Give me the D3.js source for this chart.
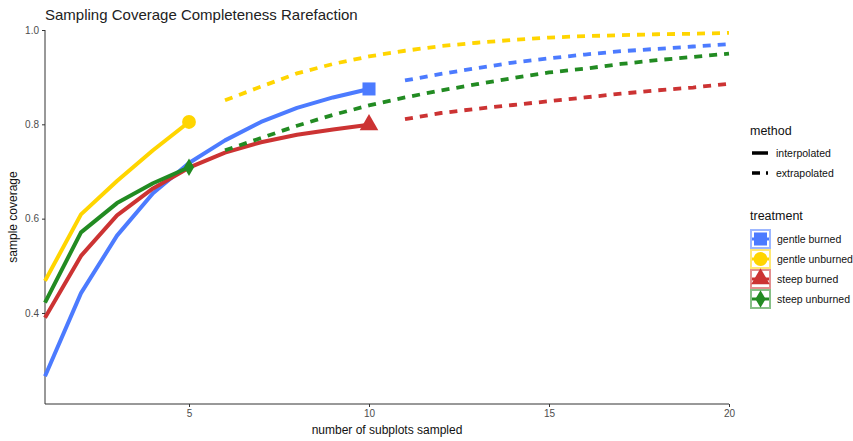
<!DOCTYPE html>
<html>
<head>
<meta charset="utf-8">
<script src="https://cdn.jsdelivr.net/npm/d3@7"></script>
<style>
  body { margin: 0; background: #fff; }
  svg { font-family: "Liberation Sans", Arial, sans-serif; }
</style>
</head>
<body>
<div id="chart"></div>
<script>
// treatments, in legend order
const treatments = ["gentle burned", "gentle unburned", "steep burned", "steep unburned"]
const colors = ["#4C7BFF", "#FFD500", "#CC3333", "#228B22"]
const shapes = [d3.symbolSquare, d3.symbolCircle, d3.symbolTriangle, d3.symbolDiamond]

// number of subplots sampled
const interpX10 = [1, 2, 3, 4, 5, 6, 7, 8, 9, 10]
const interpX5 = [1, 2, 3, 4, 5]
const extrapX11 = [11, 12, 13, 14, 15, 16, 17, 18, 19, 20]
const extrapX6 = [6, 7, 8, 9, 10, 11, 12, 13, 14, 15, 16, 17, 18, 19, 20]

// sample coverage
const gentleBurnedInterp = [0.266, 0.442, 0.564, 0.654, 0.718, 0.766, 0.805, 0.835, 0.857, 0.875]
const gentleBurnedExtrap = [0.893, 0.907, 0.919, 0.931, 0.940, 0.948, 0.955, 0.960, 0.965, 0.970]
const gentleUnburnedInterp = [0.468, 0.609, 0.68, 0.745, 0.805]
const gentleUnburnedExtrap = [0.851, 0.880, 0.908, 0.928, 0.944, 0.956, 0.966, 0.973, 0.979, 0.984, 0.987, 0.989, 0.991, 0.992, 0.994]
const steepBurnedInterp = [0.39, 0.521, 0.607, 0.664, 0.708, 0.740, 0.762, 0.778, 0.789, 0.799]
const steepBurnedExtrap = [0.811, 0.824, 0.833, 0.841, 0.849, 0.857, 0.865, 0.872, 0.878, 0.886]
const steepUnburnedInterp = [0.422, 0.571, 0.633, 0.675, 0.709]
const steepUnburnedExtrap = [0.745, 0.771, 0.797, 0.82, 0.84, 0.857, 0.872, 0.885, 0.898, 0.91, 0.918, 0.928, 0.936, 0.943, 0.95]

const xTicks = [5, 10, 15, 20]
const yTicks = [0.4, 0.6, 0.8, 1.0]

const series = [
  { interp: d3.zip(interpX10, gentleBurnedInterp), extrap: d3.zip(extrapX11, gentleBurnedExtrap) },
  { interp: d3.zip(interpX5, gentleUnburnedInterp), extrap: d3.zip(extrapX6, gentleUnburnedExtrap) },
  { interp: d3.zip(interpX10, steepBurnedInterp), extrap: d3.zip(extrapX11, steepBurnedExtrap) },
  { interp: d3.zip(interpX5, steepUnburnedInterp), extrap: d3.zip(extrapX6, steepUnburnedExtrap) }
]

const width = 853
const height = 441

const x = d3.scaleLinear().domain([1, 20]).range([45, 729])
const y = d3.scaleLinear().domain([0.207, 1.0]).range([404, 30])

const svg = d3.select("#chart").append("svg")
  .attr("width", width)
  .attr("height", height)

svg.append("text")
  .attr("x", 45)
  .attr("y", 20)
  .attr("font-size", 15)
  .attr("fill", "#222")
  .text("Sampling Coverage Completeness Rarefaction")

// axes
const xAxis = svg.append("g")
  .attr("transform", `translate(0,${y.range()[0]})`)
  .call(d3.axisBottom(x).tickValues(xTicks).tickSize(3).tickPadding(3).tickFormat(d3.format("d")))
xAxis.select(".domain").attr("stroke", "#333").attr("d", `M${x.range()[0]},0H${x.range()[1]}`)

const yAxis = svg.append("g")
  .attr("transform", `translate(${x.range()[0]},0)`)
  .call(d3.axisLeft(y).tickValues(yTicks).tickSize(3).tickPadding(3).tickFormat(d3.format(".1f")))
yAxis.select(".domain").attr("stroke", "#333").attr("d", `M0,${y.range()[0]}V${y.range()[1]}`)

svg.selectAll(".tick line").attr("stroke", "#333")
svg.selectAll(".tick text").attr("fill", "#4d4d4d").attr("font-size", 10)
  .attr("font-family", "'Liberation Sans', Arial, sans-serif")

svg.append("text")
  .attr("x", (x.range()[0] + x.range()[1]) / 2)
  .attr("y", 434)
  .attr("text-anchor", "middle")
  .attr("font-size", 12)
  .attr("fill", "#111")
  .text("number of subplots sampled")

svg.append("text")
  .attr("transform", `translate(17,${(y.range()[0] + y.range()[1]) / 2}) rotate(-90)`)
  .attr("text-anchor", "middle")
  .attr("font-size", 12)
  .attr("fill", "#111")
  .text("sample coverage")

const line = d3.line().x(d => x(d[0])).y(d => y(d[1]))

const plot = svg.append("g")

series.forEach((s, i) => {
  plot.append("path")
    .attr("d", line(s.interp))
    .attr("fill", "none")
    .attr("stroke", colors[i])
    .attr("stroke-width", 4)
    .attr("stroke-linejoin", "round")
  plot.append("path")
    .attr("d", line(s.extrap))
    .attr("fill", "none")
    .attr("stroke", colors[i])
    .attr("stroke-width", 3.8)
    .attr("stroke-dasharray", "8,7")
})

// reference sample markers at the end of each interpolated curve
const markerSizes = [170, 150, 150, 90]
series.forEach((s, i) => {
  const last = s.interp[s.interp.length - 1]
  plot.append("path")
    .attr("d", d3.symbol(shapes[i], markerSizes[i])())
    .attr("transform", `translate(${x(last[0])},${y(last[1])})`)
    .attr("fill", colors[i])
})

// legend
const legend = svg.append("g").attr("font-size", 10.5).attr("fill", "#111")

legend.append("text").attr("x", 750).attr("y", 135).attr("font-size", 12.5).text("method")

const methods = ["interpolated", "extrapolated"]
methods.forEach((m, i) => {
  const cy = 153 + i * 20
  legend.append("line")
    .attr("x1", 752).attr("x2", 768)
    .attr("y1", cy).attr("y2", cy)
    .attr("stroke", "#000")
    .attr("stroke-width", 3.5)
    .attr("stroke-dasharray", i === 0 ? null : "8,6")
  legend.append("text").attr("x", 776).attr("y", cy).attr("dy", "0.35em").text(m)
})

legend.append("text").attr("x", 750).attr("y", 220).attr("font-size", 12.5).text("treatment")

treatments.forEach((t, i) => {
  const top = 229 + i * 20
  const key = legend.append("g")
  key.append("rect")
    .attr("x", 751).attr("y", top + 1)
    .attr("width", 19).attr("height", 18)
    .attr("fill", "none")
    .attr("stroke", colors[i])
    .attr("stroke-opacity", 0.55)
    .attr("stroke-width", 2)
  key.append("line")
    .attr("x1", 752).attr("x2", 769)
    .attr("y1", top + 10).attr("y2", top + 10)
    .attr("stroke", colors[i])
    .attr("stroke-width", 3)
  key.append("path")
    .attr("d", d3.symbol(shapes[i], markerSizes[i])())
    .attr("transform", `translate(760.5,${top + 10})`)
    .attr("fill", colors[i])
  legend.append("text").attr("x", 777).attr("y", top + 10).attr("dy", "0.35em").text(t)
})
</script>
</body>
</html>
